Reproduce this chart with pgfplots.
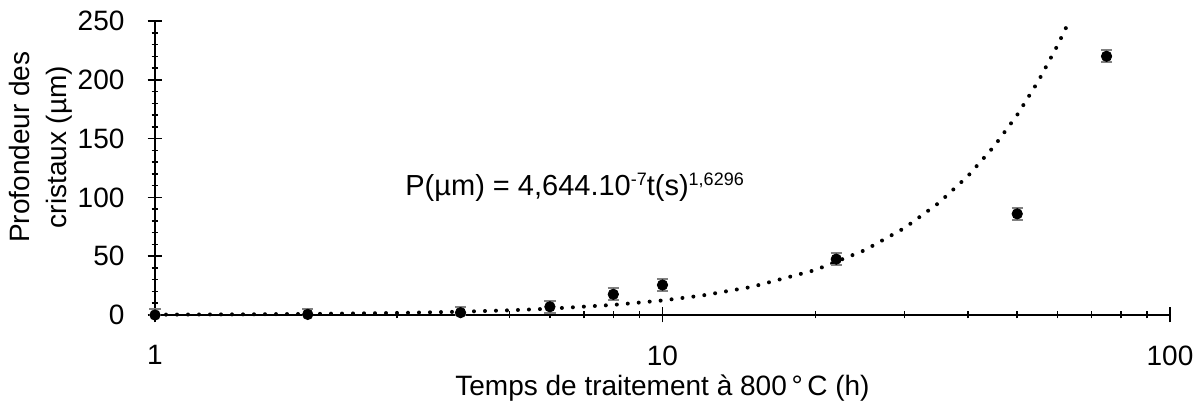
\documentclass[border=0pt]{standalone}
\usepackage{pgfplots}
\pgfplotsset{compat=1.18}
\usepackage{fontspec}
\setmainfont{Liberation Sans}
\pgfplotstableread{
x y ep em
1 0 5 0
2 0.5 4.5 0.5
4 2 5 2
6 7 5 5
8 17.6 5 5
10 25.5 5 5
22 47.5 5 5
50 86 5 5
75 220 5 5
}\mesures
\pgfplotstableread{
x y
1 0.290
1.5 0.561
2 0.897
3 1.737
4 2.776
5 3.993
6 5.374
8 8.589
10 12.355
12 16.630
15 23.922
20 38.230
25 54.995
30 74.022
35 95.161
40 118.29
45 143.32
50 170.17
55 198.76
60 229.04
63.3 249.92
}\tendance
\newcommand{\expo}[1]{\raisebox{4.6pt}{\fontsize{9}{10}\selectfont #1}}
\begin{document}
\begin{tikzpicture}
\begin{axis}[
  scale only axis,
  width=507.5pt, height=147pt,
  xmode=log,
  xmin=1, xmax=100, ymin=0, ymax=250,
  axis x line=bottom, axis y line=left,
  axis line style={-, line width=0.75pt, black},
  tick style={line width=0.75pt, black},
  tick align=center,
  major tick length=7.5pt,
  minor tick length=3.5pt,
  xtick={1,10,100}, xticklabels={1,10,100},
  ytick={0,50,100,150,200,250},
  minor y tick num=4,
  clip=false,
  /pgf/number format/assume math mode=true,
  tick label style={font=\fontsize{14}{16}\selectfont},
  yticklabel style={xshift=-8pt},
  xticklabel style={yshift=-8pt},
  xlabel={Temps de traitement à 800\,°\,C (h)},
  xlabel style={at={(axis description cs:0.5,-0.18)}, anchor=north, font=\fontsize{14}{16}\selectfont},
  ylabel={Profondeur des\\cristaux (µm)},
  ylabel style={at={(axis description cs:-0.1123,0.571)}, anchor=center, rotate=0, align=center, font=\fontsize{14}{18.5}\selectfont},
]
\addplot[black, line width=2pt, line cap=round, dash pattern=on 0pt off 5.5pt] table[x=x, y=y] {\tendance};
\addplot[only marks, mark=*, mark size=2.6pt, black,
  error bars/.cd, y dir=both, y explicit,
  error bar style={gray, line width=1pt},
  error mark options={gray, line width=1pt, mark size=2.8pt, rotate=90}]
  table[x=x, y=y, y error plus=ep, y error minus=em] {\mesures};
\node[anchor=base west, inner sep=0pt, font=\fontsize{14.5}{16}\selectfont] at (axis description cs:0.2463,0.408) {P(µm) = 4,644.10\expo{-7}t(s)\expo{1,6296}};
\end{axis}
\pgfresetboundingbox
\path ([xshift=-77.5pt,yshift=-47.5pt]current axis.south west) rectangle ([xshift=17pt,yshift=10.5pt]current axis.north east);
\end{tikzpicture}
\end{document}
